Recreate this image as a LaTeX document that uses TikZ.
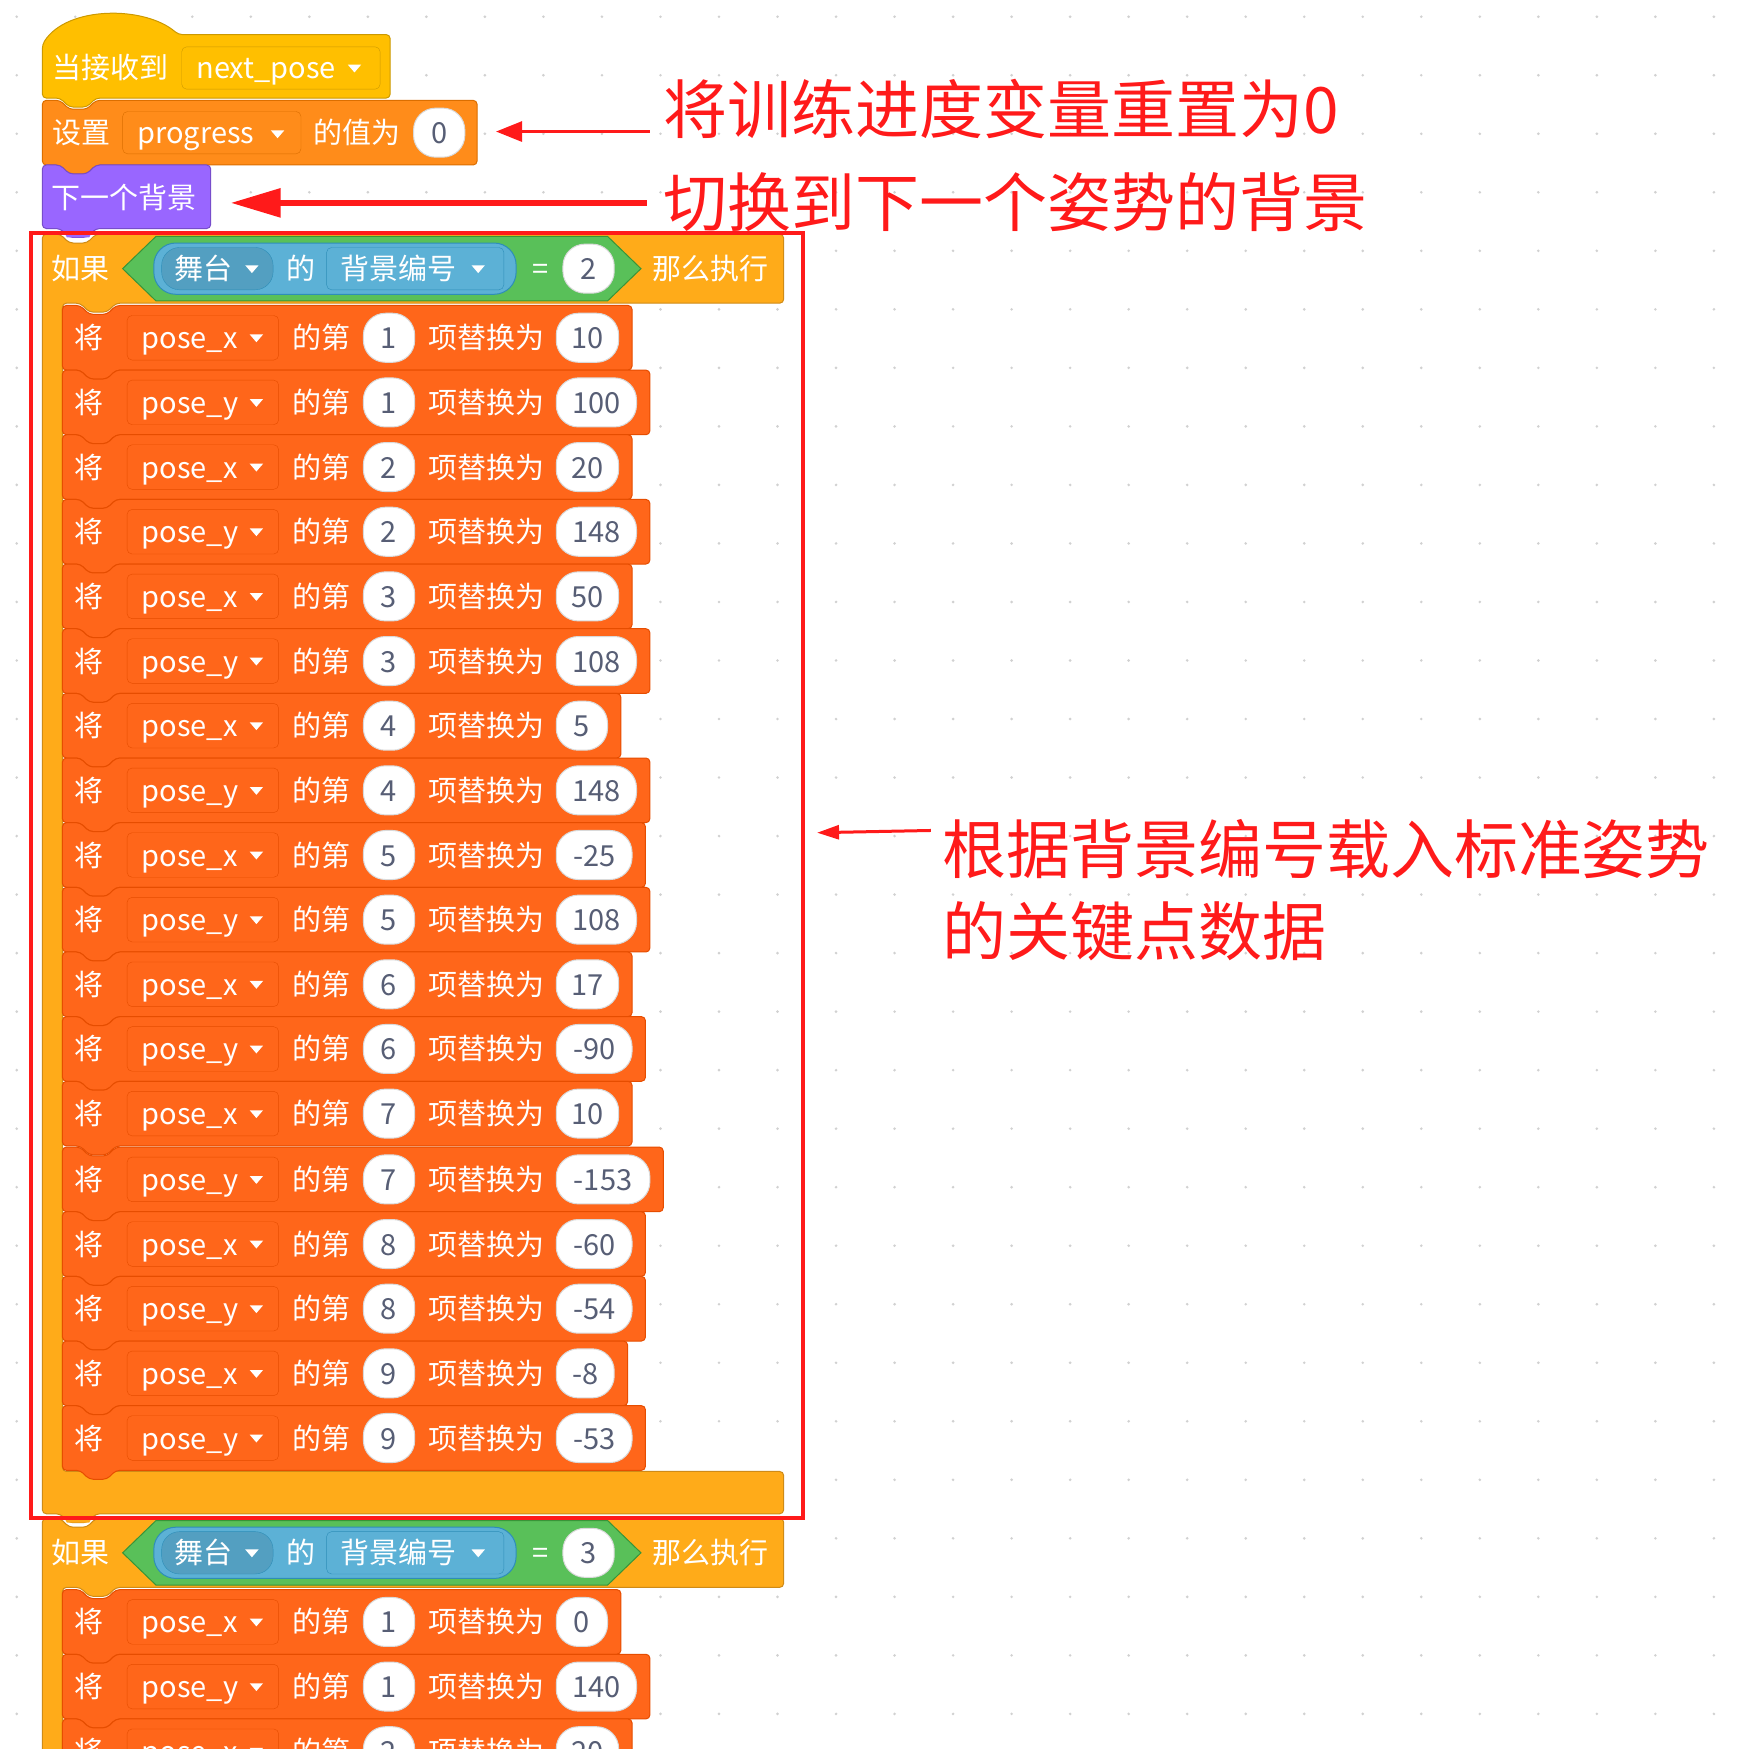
\documentclass[tikz,border=0pt]{standalone}
\usepackage{fontspec}
\setmainfont{Noto Sans CJK SC}
\usetikzlibrary{arrows.meta}
\definecolor{evf}{HTML}{FFBF00}\definecolor{evs}{HTML}{CC9900}
\definecolor{daf}{HTML}{FF8C1A}\definecolor{das}{HTML}{DB6E00}
\definecolor{lof}{HTML}{9966FF}\definecolor{los}{HTML}{774DCB}
\definecolor{cof}{HTML}{FFAB19}\definecolor{cos}{HTML}{CF8B17}
\definecolor{opf}{HTML}{59C059}\definecolor{ops}{HTML}{389438}
\definecolor{sef}{HTML}{5CB1D6}\definecolor{ses}{HTML}{2E8EB8}
\definecolor{lif}{HTML}{FF661A}\definecolor{lis}{HTML}{E64D00}
\definecolor{ann}{HTML}{FF1A1A}\definecolor{numc}{HTML}{575E75}
\newcommand\stk[6]{\draw[fill=#5,draw=#6,line width=1,rounded corners=4] (#1,#2) -- (#1+16,#2) -- (#1+24,#2+8) -- (#1+40,#2+8) -- (#1+48,#2) -- (#3,#2) -- (#3,#4) -- (#1+48,#4) -- (#1+40,#4+8) -- (#1+24,#4+8) -- (#1+16,#4) -- (#1,#4) -- cycle;}
\newcommand\ddtri[2]{\fill[white] (#1-6,#2-3) -- (#1+6,#2-3) -- (#1,#2+4) -- cycle;}
\begin{document}
\begin{tikzpicture}[x=1.115pt,y=-1.115pt,
  bt/.style={text=white,font=\fontsize{29}{29}\selectfont,inner sep=0,anchor=base,yshift=-11pt},
  lw/.style={anchor=base west},
  nt/.style={text=numc,font=\fontsize{29}{29}\selectfont,inner sep=0,anchor=base,yshift=-11pt},
  annt/.style={text=ann,font=\fontsize{64}{64}\selectfont,inner sep=0,anchor=base west,yshift=-24pt},
  oval/.style={fill=white,draw=black!15,line width=1,rounded corners=22},
  ar/.style={draw=ann,-{Triangle[length=26,width=20]}}]
\useasboundingbox (0,0) rectangle (1560,1569);
\clip (0,0) rectangle (1560,1569);
\fill[white] (0,0) rectangle (1560,1569);
\foreach \x in {15,67.5,...,1560}{\foreach \y in {15,67.5,...,1569}{\fill[black!18] (\x,\y) circle (1.3);}}
% hat
\draw[fill=evf,draw=evs,line width=1,rounded corners=4] (38,88) -- (38,40) .. controls (60,5) and (130,5) .. (160,31) -- (350,31) -- (350,88) -- (86,88) -- (78,96) -- (62,96) -- (54,88) -- cycle;
\node[bt,lw] (hatt) at (47,61) {当接收到};
\draw[fill=evf,draw=evs,rounded corners=5] (163,42) rectangle (341,80);
\node[bt,lw] (np) at (176,61) {next\_pose};\ddtri{318}{61}
% set
\stk{38}{90}{428}{148}{daf}{das}
\node[bt,lw] (sett) at (47,119) {设置};
\draw[fill=daf,draw=das,rounded corners=5] (110,100) rectangle (270,138);
\node[bt,lw] (prog) at (123,119) {progress};\ddtri{249}{120}
\node[bt,lw] (zhi) at (281,119) {的值为};
\draw[oval] (371,97) rectangle (417,141);\node[nt] (z0) at (394,119) {0};
% purple
\stk{38}{148}{189}{205}{lof}{los}
\node[bt,lw] (nb) at (46,177) {下一个背景};
% if blocks
\draw[fill=cof,draw=cos,line width=1,rounded corners=4] (38,210) -- (54,210) -- (62,218) -- (78,218) -- (86,210) -- (703,210) -- (703,272) -- (104,272) -- (96,280) -- (80,280) -- (72,272) -- (56,272) -- (56,1320) -- (703,1320) -- (703,1358) -- (86,1358) -- (78,1366) -- (62,1366) -- (54,1358) -- (38,1358) -- cycle;
\fill[lof] (56,205) -- (60,213) -- (80,213) -- (84,205) -- cycle;
\draw[fill=cof,draw=cos,line width=1,rounded corners=4] (38,1362) -- (54,1362) -- (62,1370) -- (78,1370) -- (86,1362) -- (703,1362) -- (703,1424) -- (104,1424) -- (96,1432) -- (80,1432) -- (72,1424) -- (56,1424) -- (56,1600) -- (38,1600) -- cycle;
\fill[cof] (56,1358) -- (60,1366) -- (80,1366) -- (84,1358) -- cycle;
\foreach \c/\n/\k in {241/2/a,1393/3/b}{
  \node[bt,lw] (if\k) at (46,\c) {如果};
  \draw[fill=opf,draw=ops,line width=1] (110,\c) -- (140,\c-29) -- (545,\c-29) -- (575,\c) -- (545,\c+29) -- (140,\c+29) -- cycle;
  \draw[fill=sef,draw=ses,line width=1,rounded corners=22] (138,\c-23) rectangle (463,\c+23);
  \draw[fill=sef!90!black,draw=ses,rounded corners=18] (145,\c-19) rectangle (245,\c+19);
  \node[bt,lw] (st\k) at (156,\c) {舞台};\ddtri{226}{\c}
  \node[bt] (de\k) at (270,\c) {的};
  \draw[fill=sef,draw=ses,rounded corners=5] (293,\c-19) rectangle (452,\c+19);
  \node[bt,lw] (bj\k) at (305,\c) {背景编号};\ddtri{429}{\c}
  \node[bt] (eq\k) at (485,\c) {=};
  \draw[oval] (505,\c-22) rectangle (551,\c+22);\node[nt] (n\k) at (528,\c) {\n};
  \node[bt,lw] (nm\k) at (585,\c) {那么执行};
}
% list rows
\foreach \y/\v/\i/\w/\r [count=\k] in {
 303/x/1/10/567, 361/y/1/100/583, 419/x/2/20/567, 477/y/2/148/583, 535/x/3/50/567, 593/y/3/108/583,
 651/x/4/5/557, 709/y/4/148/583, 767/x/5/-25/579, 825/y/5/108/583, 883/x/6/17/567, 941/y/6/-90/579,
 999/x/7/10/567, 1058/y/7/-153/595, 1116/x/8/-60/579, 1174/y/8/-54/579, 1232/x/9/-8/563, 1290/y/9/-53/579,
 1455/x/1/0/557, 1513/y/1/140/583, 1571/x/2/20/567}{
  \stk{56}{\y-29}{\r}{\y+29}{lif}{lis}
  \node[bt] (j\k) at (80,\y) {将};
  \draw[fill=lif,draw=lis,rounded corners=5] (114,\y-20) rectangle (250,\y+20);
  \node[bt,lw] (p\k) at (127,\y) {pose\_\v};\ddtri{230}{\y}
  \node[bt] (dd\k) at (288,\y) {的第};
  \draw[oval] (326,\y-22) rectangle (372,\y+22);\node[nt] (i\k) at (349,\y) {\i};
  \node[bt] (th\k) at (436,\y) {项替换为};
  \draw[oval] (499,\y-22) rectangle (\r-12,\y+22);
  \node[nt] (v\k) at ({(487+\r)/2},\y) {\w};
}
% annotation frame
\draw[ann,line width=4] (28,209) rectangle (720,1362);
% annotations
\node[annt] (t1) at (595,98) {将训练进度变量重置为0};
\node[annt] (t2) at (595,182) {切换到下一个姿势的背景};
\node[annt] (t3) at (845,762) {根据背景编号载入标准姿势};
\node[annt] (t4) at (845,836) {的关键点数据};
\coordinate (a1s) at (583,118);\coordinate (a1e) at (445,118);
\coordinate (a2s) at (580,182);\coordinate (a2e) at (207,182);
\coordinate (a3s) at (835,745);\coordinate (a3e) at (733,747);
\draw[ar,line width=3] (a1s) -- (a1e);
\draw[ar,line width=6,-{Triangle[length=50,width=28]}] (a2s) -- (a2e);
\draw[ar,line width=3,-{Triangle[length=22,width=14]}] (a3s) -- (a3e);
\end{tikzpicture}
\end{document}
